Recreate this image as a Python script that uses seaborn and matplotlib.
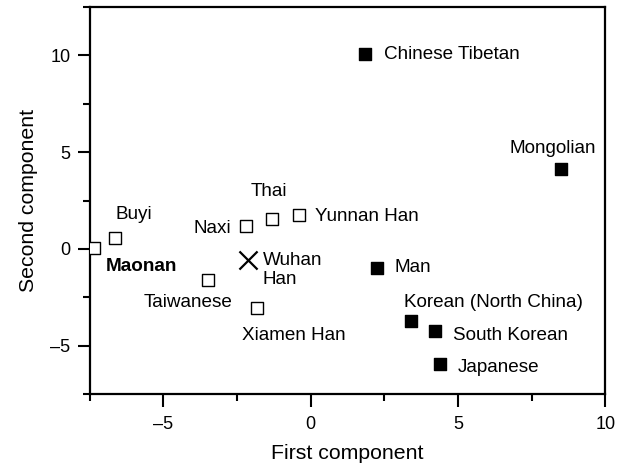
import matplotlib
matplotlib.use("Agg")
import matplotlib.pyplot as plt
from matplotlib.ticker import MultipleLocator, FuncFormatter
import seaborn as sns
import pandas as pd

# Population coordinates on the first two principal components
populations = ["Maonan", "Buyi", "Naxi", "Thai", "Yunnan Han", "Wuhan\nHan",
               "Taiwanese", "Xiamen Han", "Chinese Tibetan", "Mongolian", "Man",
               "Korean (North China)", "South Korean", "Japanese"]
first_comp = [-7.35, -6.63, -2.21, -1.33, -0.41, -2.14,
              -3.50, -1.84, 1.84, 8.50, 2.24,
              3.40, 4.22, 4.39]
second_comp = [0.05, 0.57, 1.19, 1.55, 1.75, -0.57,
               -1.60, -3.04, 10.05, 4.12, -0.98,
               -3.71, -4.23, -5.93]
groups = ["southern", "southern", "southern", "southern", "southern", "reference",
          "southern", "southern", "northern", "northern", "northern",
          "northern", "northern", "northern"]

df = pd.DataFrame({"pop": populations, "x": first_comp, "y": second_comp, "group": groups})

sns.set_style("ticks")
plt.rcParams["font.family"] = ["Liberation Sans", "DejaVu Sans"]
plt.rcParams["text.color"] = "black"
plt.rcParams["axes.labelcolor"] = "black"
plt.rcParams["xtick.color"] = "black"
plt.rcParams["ytick.color"] = "black"

fig = plt.figure(figsize=(6.24, 4.68), dpi=100)
ax = fig.add_axes([0.144, 0.158, 0.826, 0.827])

sns.scatterplot(data=df[df.group == "southern"], x="x", y="y", marker="s", s=64,
                color="white", edgecolor="black", linewidth=1.0, ax=ax, zorder=3)
sns.scatterplot(data=df[df.group == "northern"], x="x", y="y", marker="s", s=64,
                color="black", edgecolor="black", linewidth=1.0, ax=ax, zorder=3)
sns.scatterplot(data=df[df.group == "reference"], x="x", y="y", marker="x", s=170,
                color="black", linewidth=1.6, ax=ax, zorder=3)

# Label placement: (dx, dy) in pixels, horizontal alignment, bold
label_pos = {
    "Maonan": (47, -19, "center", True),
    "Buyi": (18, 23, "center", False),
    "Naxi": (-15, -3, "right", False),
    "Thai": (-3, 27, "center", False),
    "Yunnan Han": (16, -1, "left", False),
    "Wuhan\nHan": (15, -10, "left", False),
    "Taiwanese": (-20, -23, "center", False),
    "Xiamen Han": (37, -28, "center", False),
    "Chinese Tibetan": (19, 0, "left", False),
    "Mongolian": (-8, 21, "center", False),
    "Man": (18, 0, "left", False),
    "Korean (North China)": (83, 18, "center", False),
    "South Korean": (18, -5, "left", False),
    "Japanese": (18, -4, "left", False),
}
for name, x, y in zip(populations, first_comp, second_comp):
    dx, dy, ha, bold = label_pos[name]
    ax.annotate(name, (x, y), xytext=(dx, dy), textcoords="offset pixels",
                ha=ha, va="center", fontsize=13.6, color="black",
                fontweight="bold" if bold else "normal", linespacing=1.15)

ax.set_xlim(-7.5, 10)
ax.set_ylim(-7.5, 12.5)
ax.xaxis.set_major_locator(MultipleLocator(5))
ax.xaxis.set_minor_locator(MultipleLocator(2.5))
ax.yaxis.set_major_locator(MultipleLocator(5))
ax.yaxis.set_minor_locator(MultipleLocator(2.5))
fmt = FuncFormatter(lambda v, p: ("\u2013%g" % abs(v)) if v < 0 else "%g" % v)
ax.xaxis.set_major_formatter(fmt)
ax.yaxis.set_major_formatter(fmt)
ax.tick_params(which="major", length=9, width=1.5, labelsize=13, color="black",
               labelcolor="black")
ax.tick_params(axis="x", which="major", pad=7)
ax.tick_params(axis="y", which="major", pad=5)
ax.tick_params(which="minor", length=5, width=1.5, color="black")
for sp in ax.spines.values():
    sp.set_visible(True)
    sp.set_linewidth(1.6)
    sp.set_color("black")

ax.set_xlabel("First component", fontsize=15.3, labelpad=8)
ax.set_ylabel("Second component", fontsize=15.3, labelpad=9)

fig.savefig("out.png", dpi=100)
